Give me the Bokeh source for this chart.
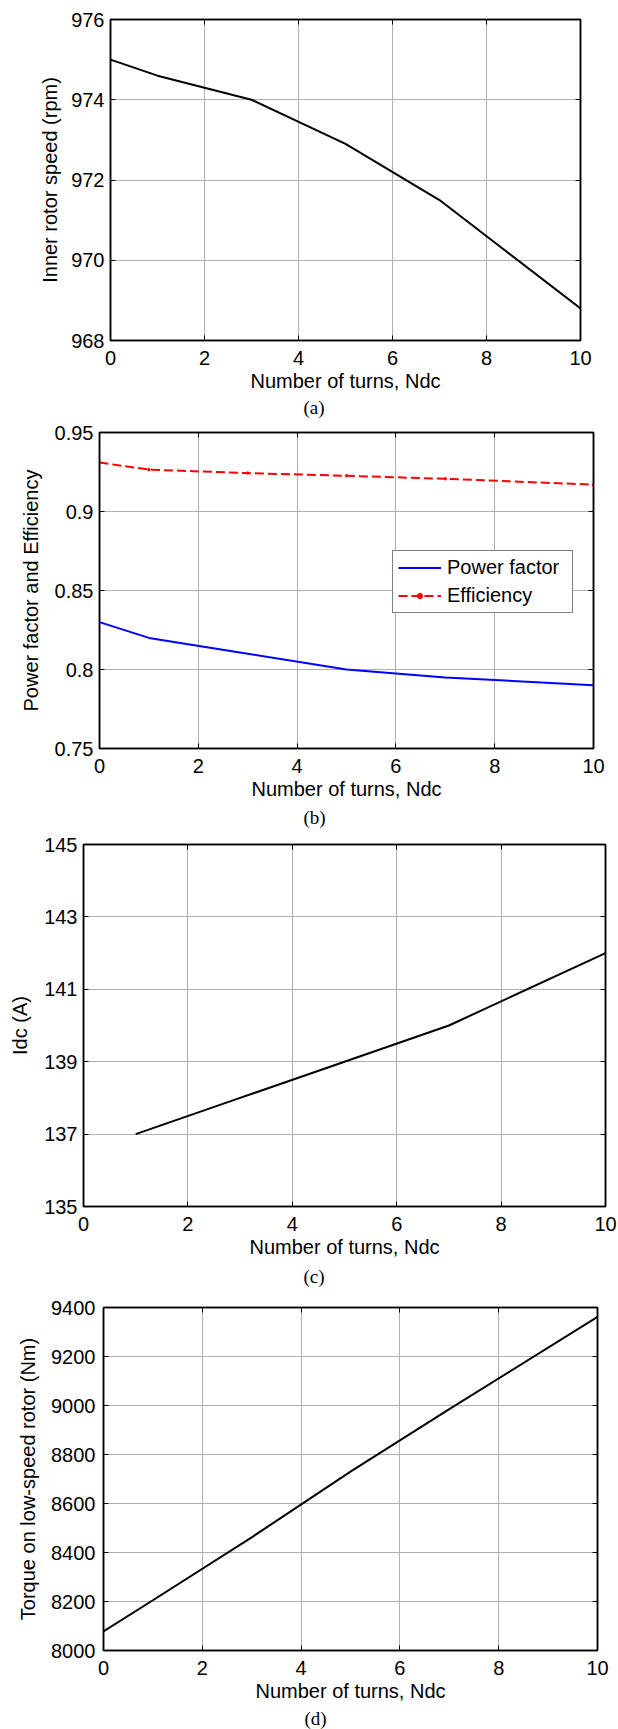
from bokeh.plotting import figure
from bokeh.models import Range1d, FixedTicker, LinearAxis, Legend, LegendItem, Title
from bokeh.embed import file_html
from bokeh.resources import INLINE

# ---------------- data ----------------
turns = [0, 1, 3, 5, 7, 10]
speed_rpm = [975.0, 974.6, 974.0, 972.9, 971.5, 968.8]
power_factor = [0.83, 0.82, 0.81, 0.80, 0.795, 0.79]
efficiency = [0.931, 0.9265, 0.9243, 0.9226, 0.9207, 0.917]
turns_idc = [1, 3, 5, 7, 10]
idc_amp = [137.0, 138.0, 139.0, 140.0, 142.0]
torque_nm = [8078, 8205, 8462, 8730, 8985, 9362]

x_ticks = [0, 2, 4, 6, 8, 10]
x_tick_labels = ["0", "2", "4", "6", "8", "10"]
speed_ticks = [968, 970, 972, 974, 976]
speed_tick_labels = ["968", "970", "972", "974", "976"]
pf_ticks = [0.75, 0.8, 0.85, 0.9, 0.95]
pf_tick_labels = ["0.75", "0.8", "0.85", "0.9", "0.95"]
idc_ticks = [135, 137, 139, 141, 143, 145]
idc_tick_labels = ["135", "137", "139", "141", "143", "145"]
torque_ticks = [8000, 8200, 8400, 8600, 8800, 9000, 9200, 9400]
torque_tick_labels = ["8000", "8200", "8400", "8600", "8800", "9000", "9200", "9400"]

X_LABEL = "Number of turns, Ndc"
FONT = "Liberation Sans"
TICK_FS = "20px"
GRID_COLOR = "#b0b0b0"


def make_panel(height, b_left, b_right, b_top, b_bottom, y_ticks, y_tick_labels,
               y_label, caption, cap_offset, cap_standoff, y_std=6, y_lab_std=10):
    p = figure(width=618, height=height, output_backend="svg", toolbar_location=None,
               x_range=Range1d(x_ticks[0], x_ticks[-1]),
               y_range=Range1d(y_ticks[0], y_ticks[-1]),
               min_border_left=b_left, min_border_right=b_right,
               min_border_top=b_top, min_border_bottom=b_bottom,
               background_fill_color="white", border_fill_color="white")
    p.outline_line_color = "black"
    p.outline_line_width = 1.5
    p.outline_line_alpha = 1.0

    for ax, ticks, labels in ((p.xaxis[0], x_ticks, x_tick_labels),
                              (p.yaxis[0], y_ticks, y_tick_labels)):
        ax.ticker = FixedTicker(ticks=ticks)
        ax.major_label_overrides = {t: l for t, l in zip(ticks, labels)}
        ax.major_tick_in = 5
        ax.major_tick_out = 0
        ax.minor_tick_line_color = None
        ax.axis_line_width = 1.5
        ax.major_tick_line_width = 1
        ax.major_label_text_font = FONT
        ax.major_label_text_font_size = TICK_FS
        ax.major_label_text_color = "black"
        ax.axis_label_text_font = FONT
        ax.axis_label_text_font_size = TICK_FS
        ax.axis_label_text_font_style = "normal"
        ax.axis_label_text_color = "black"

    p.xaxis[0].axis_label = X_LABEL
    p.xaxis[0].major_label_standoff = 10
    p.xaxis[0].axis_label_standoff = 2
    p.yaxis[0].axis_label = y_label
    p.yaxis[0].major_label_standoff = y_std
    p.yaxis[0].axis_label_standoff = y_lab_std

    # tick marks on the top and right edges (MATLAB box style), no labels
    for side, ticks in (("above", x_ticks), ("right", y_ticks)):
        ax = LinearAxis(ticker=FixedTicker(ticks=ticks), major_label_text_font_size="1px",
                        major_label_text_color=None, major_tick_in=5, major_tick_out=0,
                        minor_tick_line_color=None, axis_line_width=1.5,
                        major_label_standoff=0)
        p.add_layout(ax, side)

    p.xgrid.ticker = FixedTicker(ticks=x_ticks)
    p.ygrid.ticker = FixedTicker(ticks=y_ticks)
    for g in (p.xgrid[0], p.ygrid[0]):
        g.grid_line_color = GRID_COLOR
        g.grid_line_width = 1

    p.add_layout(Title(text=caption, align="left", offset=cap_offset, standoff=cap_standoff,
                       text_font="Liberation Serif", text_font_size="19px",
                       text_font_style="normal", text_color="black"), "below")
    return p


# (a) inner rotor speed
pa = make_panel(418, 110, 38, 19, 78, speed_ticks, speed_tick_labels,
                "Inner rotor speed (rpm)", "(a)", 193, 0, y_lab_std=7)
pa.line(turns, speed_rpm, line_color="black", line_width=2)

# (b) power factor and efficiency
pb = make_panel(414, 99, 25, 14, 84, pf_ticks, pf_tick_labels,
                "Power factor and Efficiency", "(b)", 204, 4)
pf_r = pb.line(turns, power_factor, line_color="#0000ff", line_width=2)
eff_r = pb.line(turns, efficiency, line_color="#ff0000", line_width=2, line_dash="9 4")
dot_r = pb.scatter(turns, efficiency, marker="circle", size=2.5, color="#ff0000")
legend = Legend(items=[LegendItem(label="Power factor", renderers=[pf_r]),
                       LegendItem(label="Efficiency", renderers=[eff_r, dot_r])],
                location=(293, 135), orientation="vertical",
                label_text_font=FONT, label_text_font_size="20px",
                label_text_color="black",
                glyph_width=43, glyph_height=13, label_height=22,
                label_standoff=6, spacing=5, padding=5, label_width=120,
                border_line_color="black", border_line_width=1.5,
                background_fill_color="white", background_fill_alpha=1.0)
pb.add_layout(legend)

# (c) Idc
pc = make_panel(461, 83, 13, 12, 87, idc_ticks, idc_tick_labels,
                "Idc (A)", "(c)", 220, 6)
pc.line(turns_idc, idc_amp, line_color="black", line_width=2)

# (d) torque
pd_ = make_panel(436, 103, 21, 14, 78, torque_ticks, torque_tick_labels,
                 "Torque on low-speed rotor (Nm)", "(d)", 201, 2, y_std=8, y_lab_std=9)
pd_.line(turns, torque_nm, line_color="black", line_width=2)

open("out.html", "w").write(file_html([pa, pb, pc, pd_], INLINE))
